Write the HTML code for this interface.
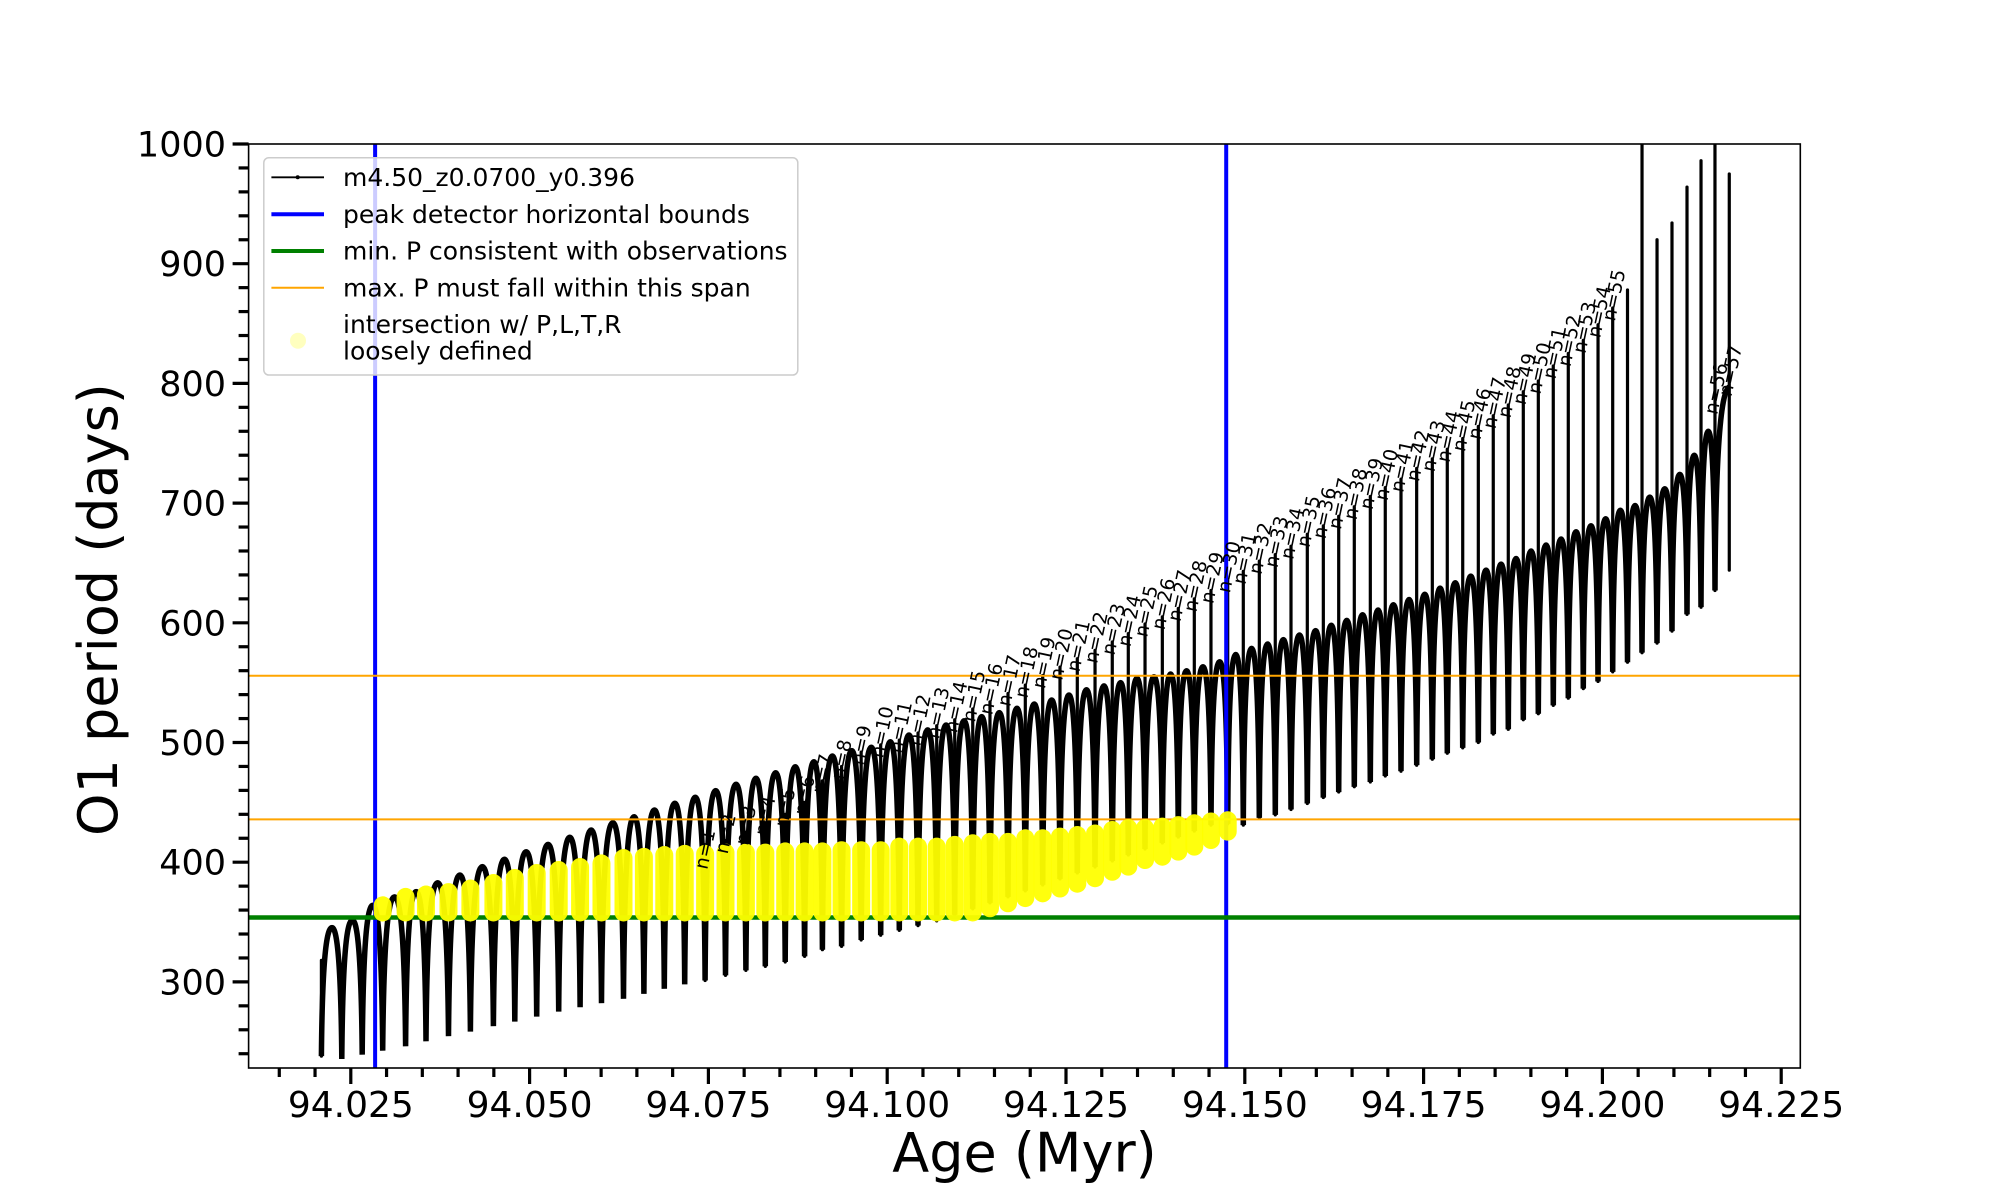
<!DOCTYPE html>
<html>
<head>
<meta charset="utf-8">
<style>
  html,body{margin:0;padding:0;background:#fff;}
  svg{display:block;}
  text{font-family:"DejaVu Sans","Liberation Sans",sans-serif;}
</style>
</head>
<body>
<svg id="chart" width="2000" height="1200" viewBox="0 0 2000 1200">
  <defs>
    <clipPath id="plotclip"><rect x="248.6" y="144" width="1551.7" height="924"/></clipPath>
  </defs>
  <rect x="0" y="0" width="2000" height="1200" fill="#fff"/>
  <g id="data" clip-path="url(#plotclip)"></g>
  <g id="labels" clip-path="url(#plotclip)"></g>
  <rect x="248.6" y="144" width="1551.7" height="924" fill="none" stroke="#000" stroke-width="1.6"/>
  <g id="xaxis"></g>
  <g id="yaxis"></g>
  <text x="1024.5" y="1171.7" font-size="54" text-anchor="middle">Age (Myr)</text>
  <text transform="translate(117,609.6) rotate(-90)" x="0" y="0" font-size="54" text-anchor="middle">O1 period (days)</text>

  <g>
    <rect x="263.8" y="157.7" width="534" height="217.3" rx="5" ry="5" fill="#fff" fill-opacity="0.8" stroke="#cccccc" stroke-width="1.5"/>
    <g>
      <line x1="271.4" y1="177.3" x2="324" y2="177.3" stroke="#000" stroke-width="1.8"/>
      <circle cx="297.7" cy="177.3" r="2" fill="#000"/>
      <text x="343" y="186" font-size="25">m4.50_z0.0700_y0.396</text>
    </g>
    <g>
      <line x1="271.4" y1="214.3" x2="324" y2="214.3" stroke="#0000ff" stroke-width="4"/>
      <text x="343" y="223" font-size="25">peak detector horizontal bounds</text>
    </g>
    <g>
      <line x1="271.4" y1="251" x2="324" y2="251" stroke="#008000" stroke-width="4"/>
      <text x="343" y="259.7" font-size="25">min. P consistent with observations</text>
    </g>
    <g>
      <line x1="271.4" y1="287.7" x2="324" y2="287.7" stroke="#ffa500" stroke-width="2"/>
      <text x="343" y="296.4" font-size="25">max. P must fall within this span</text>
    </g>
    <g>
      <circle cx="298" cy="340.7" r="8" fill="#ffff00" fill-opacity="0.25"/>
      <text x="343" y="333" font-size="25">intersection w/ P,L,T,R</text>
      <text x="343" y="359.7" font-size="25">loosely defined</text>
    </g>
  </g>
</svg>
<script>
// ---------- data ----------
const valleyAge = [94.02089,94.02374,94.02659,94.02946,94.03266,94.03551,94.03866,94.04172,94.04494,94.04793,
94.05099,94.05407,94.05706,94.06005,94.06313,94.06598,94.06883,94.07169,94.07454,94.07739,
94.08024,94.08296,94.08574,94.08845,94.09094,94.09362,94.09636,94.09909,94.10169,94.10431,
94.10692,94.10944,94.11196,94.11437,94.11689,94.11931,94.12174,94.12416,94.12658,94.12906,
94.13147,94.13371,94.13605,94.13847,94.14070,94.14294,94.14527,94.14761,94.14979,94.15203,
94.15426,94.15646,94.15874,94.16098,94.16313,94.16531,94.16755,94.16964,94.17184,94.17403,
94.17622,94.17831,94.18047,94.18265,94.18474,94.18684,94.18894,94.19104,94.19313,94.19523,
94.19733,94.19939,94.20144,94.20351,94.20554,94.20764,94.20973,94.21183,94.21379,94.21574,94.21774];
const valleyP = [238,235.6,239.2,242.5,246.2,250.4,254.6,258.5,263,266.8,
271,275.2,278.9,282.2,285.9,290,294.2,297.9,301.2,305.4,
309.6,313,316.6,321.3,326.9,329.7,335,339,343,347,
351,356,361,366,371,376,381,386,391,396,
401,406,411,416,421,426,431,432,431,437,
439.5,444,449,454,458.6,463,467,472,476,481,
486,491,495.5,500,507,511,519,524,531,537,
545,551,559,567,575,583,593,607,613,627,797];
const arcPeakP = [345.4,351.6,364,371,375.4,382.9,389.3,396.3,402.4,408.8,
414.9,420.8,426.9,433,438,443.6,449.2,454.2,459.8,465.1,
470.1,474.8,479.8,484,488.7,493.2,496,500.7,506.3,510.5,
514.6,518.2,521.6,525,528.6,532.2,535.5,539.7,544,547.3,
550,553.6,555,557.2,560,563.3,567.5,573.5,578.6,582.3,
586,589.8,593.5,598,602,606.7,610.7,615,619.5,623.9,
629,633.5,639,644,649,653.7,660,665,670,676,
681,687,694,698,705,712,724,740,760,797];
const spikeTopP = [318,null,null,null,null,null,null,null,null,null,
null,null,null,null,null,null,null,null,405,418,
425,433,440,450,468,480,492,498,502,508,
514,519,528,534,541,548,556,563,570,577,
584,591,599,605,612,620,627,636,643,651.5,
657,664,674,681,689,697,705.5,713,720,729,
737,745,754,764,773,782,793,802,814.6,825,
836,849,863,878,1010,920,934,964,986,1010,975];
const spikeLowP = [238,235.6,239.2,242.5,246.2,250.4,254.6,258.5,263,266.8,
271,275.2,278.9,282.2,285.9,290,294.2,297.9,301.2,305.4,
309.6,313,316.6,321.3,326.9,329.7,335,339,343,347,
351,356,361,366,371,376,381,386,391,396,
401,406,411,416,421,426,431,432,431,437,
439.5,444,449,454,458.6,463,467,472,476,481,
486,491,495.5,500,507,511,519,524,531,537,
545,551,559,567,575,583,593,607,613,627,644];
const labelN =   [1,2,3,4,5,6,7,8,9,10,11,12,13,14,15,16,17,18,19,20,21,22,23,24,25,26,27,28,29,30,31,32,33,34,35,36,37,38,39,40,41,42,43,44,45,46,47,48,49,50,51,52,53,54,55,56,57];
const labelIdx = [18,19,20,21,22,23,24,25,26,27,28,29,30,31,32,33,34,35,36,37,38,39,40,41,42,43,44,45,46,47,48,49,50,51,52,53,54,55,56,57,58,59,60,61,62,63,64,65,66,67,68,69,70,71,72,79,80];
const labelP =   [405,418,425,433,440,450,468,480,492,498,502,508,514,519,528,534,541,548,556,563,570,577,584,591,599,605,612,620,627,636,643,651.5,657,664,674,681,689,697,705.5,713,720,729,737,745,754,764,773,782,793,802,814.6,825,836,849,863,785,800];
const yellowIdx = [3,4,5,6,7,8,9,10,11,12,13,14,15,16,17,18,19,20,21,22,23,24,25,26,27,28,29,30,31,32,33,34,35,36,37,38,39,40,41,42,43,44,45,46,47];
const yellowLoP = [358,358,358,358,358,358,358,358,358,358,358,358,358,358,358,358,358,358,358,358,358,358,358,358,358,358,358,358,358,358,361.5,365.7,370,374,378,382,386.6,392,396.3,401.8,404.6,408.8,413,418.5,425.5];
const yellowHiP = [364,371,373,375,378,382.6,386.8,391,393.5,396,399,403.5,404.5,406,407,407,408,408,408,409,409,409,410,410,410,413,413,413,414.5,415.8,417,417,420,420,421.4,422.7,424,426.9,428.5,428.5,429.7,431,432.5,434,435];
const boundAges = [94.0284, 94.1474];
const minP = [353.8];
const maxSpanP = [555.8, 435.8];
const xTickVals = [94.025,94.050,94.075,94.100,94.125,94.150,94.175,94.200,94.225];
const xTickLabels = ["94.025","94.050","94.075","94.100","94.125","94.150","94.175","94.200","94.225"];
const yTickVals = [300,400,500,600,700,800,900,1000];
const yTickLabels = ["300","400","500","600","700","800","900","1000"];

// ---------- axes ----------
const X0 = 350.8, XPER = 178.8 / 0.025;
const Y0 = 144, YPER = 1.197;
const xS = a => X0 + (a - 94.025) * XPER;
const yS = p => Y0 + (1000 - p) * YPER;
const PLOT_L = 248.6, PLOT_R = 1800.3, PLOT_T = 144, PLOT_B = 1068;
const NS = "http://www.w3.org/2000/svg";
function mk(tag, attrs, parent){
  const e = document.createElementNS(NS, tag);
  for (const k in attrs) e.setAttribute(k, attrs[k]);
  parent.appendChild(e);
  return e;
}
const dataG = document.getElementById('data');
const labG = document.getElementById('labels');
const xG = document.getElementById('xaxis');
const yG = document.getElementById('yaxis');

// arcs
let d = "";
for (let k = 0; k < arcPeakP.length; k++) {
  const x0 = xS(valleyAge[k]), x1 = xS(valleyAge[k+1]);
  const y0 = yS(valleyP[k]), y1 = yS(valleyP[k+1]), yp = yS(arcPeakP[k]);
  const w = x1 - x0;
  if (k === arcPeakP.length - 1) {
    d += `M${x0.toFixed(1)},${y0.toFixed(1)} C${(x0+0.03*w).toFixed(1)},${(yp+0.5*(y0-yp)).toFixed(1)} ${(x0+0.25*w).toFixed(1)},${(yp+4).toFixed(1)} ${x1.toFixed(1)},${yp.toFixed(1)} `;
  } else {
    const xp = x0 + 0.52*w;
    d += `M${x0.toFixed(1)},${y0.toFixed(1)} C${(x0+0.03*w).toFixed(1)},${(yp+0.5*(y0-yp)).toFixed(1)} ${(x0+0.14*w).toFixed(1)},${yp.toFixed(1)} ${xp.toFixed(1)},${yp.toFixed(1)} C${(xp+0.34*w).toFixed(1)},${yp.toFixed(1)} ${(x1-0.03*w).toFixed(1)},${(yp+0.5*(y1-yp)).toFixed(1)} ${x1.toFixed(1)},${y1.toFixed(1)} `;
  }
}
const arcs = mk('path', {d: d, fill: 'none', stroke: '#000', 'stroke-width': 5.5, 'stroke-linejoin': 'round'}, dataG);



// spikes
for (let i = 0; i < spikeTopP.length; i++) {
  if (spikeTopP[i] === null) continue;
  const x = xS(valleyAge[i]);
  const s = mk('line', {x1: x, x2: x, y1: yS(spikeLowP[i]), y2: yS(spikeTopP[i]), stroke: '#000', 'stroke-width': 3.2, 'stroke-linecap': 'round'}, dataG);
  
  
}

// reference lines
boundAges.forEach(a => {
  const l = mk('line', {x1: xS(a), x2: xS(a), y1: PLOT_T, y2: PLOT_B, stroke: '#0000ff', 'stroke-width': 4}, dataG);
  
  
});
minP.forEach(p => {
  const l = mk('line', {x1: PLOT_L, x2: PLOT_R, y1: yS(p), y2: yS(p), stroke: '#008000', 'stroke-width': 4.5}, dataG);
  
  
});
maxSpanP.forEach(p => {
  const l = mk('line', {x1: PLOT_L, x2: PLOT_R, y1: yS(p), y2: yS(p), stroke: '#ffa500', 'stroke-width': 2}, dataG);
  
  
});

// yellow intersection markers
for (let j = 0; j < yellowIdx.length; j++) {
  const x = xS(valleyAge[yellowIdx[j]]);
  const c = mk('line', {x1: x, x2: x, y1: yS(yellowLoP[j]), y2: yS(yellowHiP[j]), stroke: '#ffff00', 'stroke-width': 18, 'stroke-linecap': 'round', 'stroke-opacity': 0.95}, dataG);
  
  
}

// n= labels
for (let j = 0; j < labelN.length; j++) {
  const x = xS(valleyAge[labelIdx[j]]) + 2;
  const y = yS(labelP[j]) + 14;
  const t = mk('text', {x: 0, y: 0, transform: `translate(${x.toFixed(1)},${y.toFixed(1)}) rotate(-78)`, 'font-size': 19, fill: '#000'}, labG);
  t.textContent = 'n=' + labelN[j];
  
  
}

// x ticks
for (let v = 94.015; v <= 94.2251; v += 0.005) {
  const x = xS(v);
  const major = xTickVals.some(t => Math.abs(t - v) < 1e-6);
  const tk = mk('line', {x1: x, x2: x, y1: PLOT_B, y2: PLOT_B + (major ? 16 : 9), stroke: '#000', 'stroke-width': 3.2}, xG);
  
  
}
xTickVals.forEach((v, i) => {
  const t = mk('text', {x: xS(v), y: 1117, 'font-size': 36, 'text-anchor': 'middle'}, xG);
  t.textContent = xTickLabels[i];
  
  
});
// y ticks
for (let v = 240; v <= 1000; v += 20) {
  const y = yS(v);
  const major = v % 100 === 0;
  const tk = mk('line', {x1: PLOT_L - (major ? 16 : 10), x2: PLOT_L, y1: y, y2: y, stroke: '#000', 'stroke-width': 3.2}, yG);
  
  
}
yTickVals.forEach((v, i) => {
  const t = mk('text', {x: 226, y: yS(v) + 12.5, 'font-size': 35, 'text-anchor': 'end'}, yG);
  t.textContent = yTickLabels[i];
  
  
});
</script>
</body>
</html>
